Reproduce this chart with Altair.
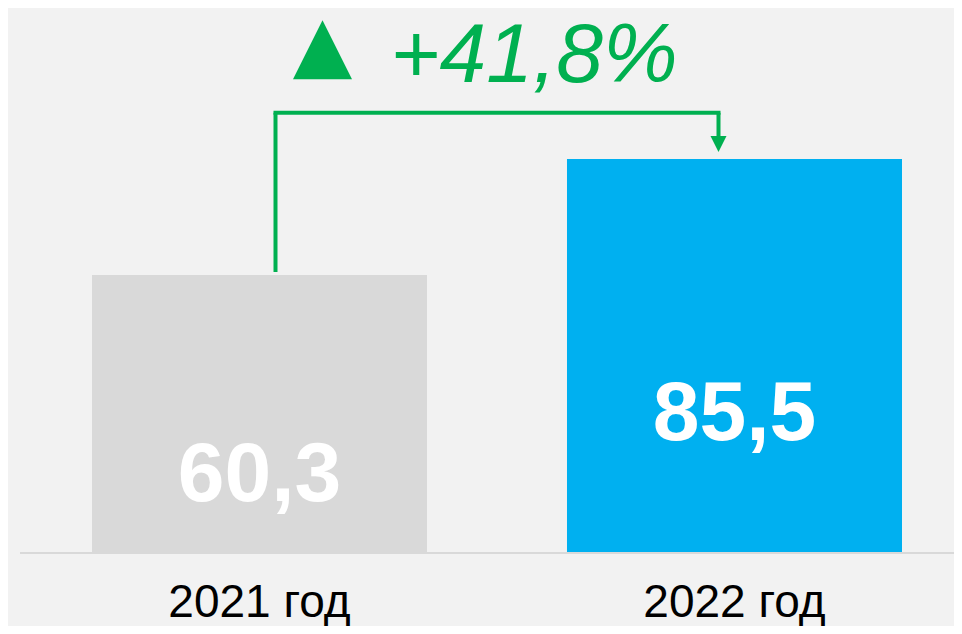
import altair as alt
import pandas as pd

# ---- data ----
categories = ["2021 год", "2022 год"]
values = [60.3, 85.5]
value_labels = ["60,3", "85,5"]
growth_label = "+41,8%"

# ---- style ----
BG = "#f2f2f2"
GREEN = "#00b050"
BAR_COLORS = ["#d9d9d9", "#00b0f0"]
FONT = "Liberation Sans"
W, H = 946, 618

df = pd.DataFrame({"year": categories, "value": values, "label": value_labels})
level = max(values) + 10  # height of the connector bracket

xscale = alt.Scale(domain=categories, range=[84, 894], paddingInner=0.2947, paddingOuter=0)
yscale = alt.Scale(domain=[-15.84, 118.25], nice=False, zero=False)


def X(field="year"):
    return alt.X(f"{field}:N", scale=xscale, axis=None)


def Y(field="value"):
    return alt.Y(f"{field}:Q", scale=yscale, axis=None)


bars = alt.Chart(df).mark_bar().encode(
    x=X(),
    y=Y(),
    y2=alt.datum(0),
    color=alt.Color("year:N", scale=alt.Scale(domain=categories, range=BAR_COLORS), legend=None),
)

first = df.iloc[[0]]
last = df.iloc[[1]]
pair = pd.DataFrame({"from": [categories[0]], "to": [categories[1]], "lvl": [level], "zero": [0.0]})

baseline = alt.Chart(pair).mark_rule(color="#d9d9d9", strokeWidth=2).encode(
    y=Y("zero"), x=alt.value(12), x2=alt.value(W)
)

left_rule = alt.Chart(first.assign(lvl=level)).mark_rule(
    color=GREEN, strokeWidth=4, xOffset=16, yOffset=-3
).encode(x=X(), y=Y(), y2=alt.Y2("lvl:Q"))

top_rule = alt.Chart(pair).mark_rule(
    color=GREEN, strokeWidth=4, xOffset=14, x2Offset=-14
).encode(x=X("from"), x2=alt.X2("to:N"), y=Y("lvl"))

right_rule = alt.Chart(last.assign(lvl=level)).mark_rule(
    color=GREEN, strokeWidth=4, xOffset=-16, yOffset=-20
).encode(x=X(), y=Y(), y2=alt.Y2("lvl:Q"))

arrow_head = alt.Chart(last).mark_point(
    shape="M-1,-1L1,-1L0,1Z", size=256, filled=True, opacity=1,
    color=GREEN, strokeWidth=0, xOffset=-16, yOffset=-15,
).encode(x=X(), y=Y())

big_triangle = alt.Chart(pair).mark_point(
    shape="M-1,1L0,-1L1,1Z", size=3481, filled=True, opacity=1,
    color=GREEN, strokeWidth=0, xOffset=63, yOffset=-63,
).encode(x=X("from"), y=Y("lvl"))

growth = alt.Chart(pair.assign(txt=[growth_label])).mark_text(
    align="left", baseline="alphabetic", font=FONT, fontSize=84,
    fontStyle="italic", color=GREEN, dx=131, dy=-31,
).encode(x=X("from"), y=Y("lvl"), text="txt:N")

df0 = df.assign(zero=0.0)
cat_labels = alt.Chart(df0).mark_text(
    align="center", baseline="alphabetic", font=FONT, fontSize=46,
    color="#000000", dy=64,
).encode(x=X(), y=Y("zero"), text="year:N")

label_dy = {categories[0]: -52, categories[1]: -113}
value_text = [
    alt.Chart(df0[df0["year"] == c]).mark_text(
        align="center", baseline="alphabetic", font=FONT, fontSize=84,
        fontWeight="bold", color="#ffffff", dy=label_dy[c],
    ).encode(x=X(), y=Y("zero"), text="label:N")
    for c in categories
]

chart = alt.layer(
    bars, baseline, left_rule, top_rule, right_rule, arrow_head,
    big_triangle, growth, cat_labels, *value_text
).properties(
    width=W, height=H, background=BG, padding=0,
    autosize=alt.AutoSizeParams(type="none"),
).configure_view(stroke=None)

chart.save("out.html", embed_options={"renderer": "svg", "actions": False})
